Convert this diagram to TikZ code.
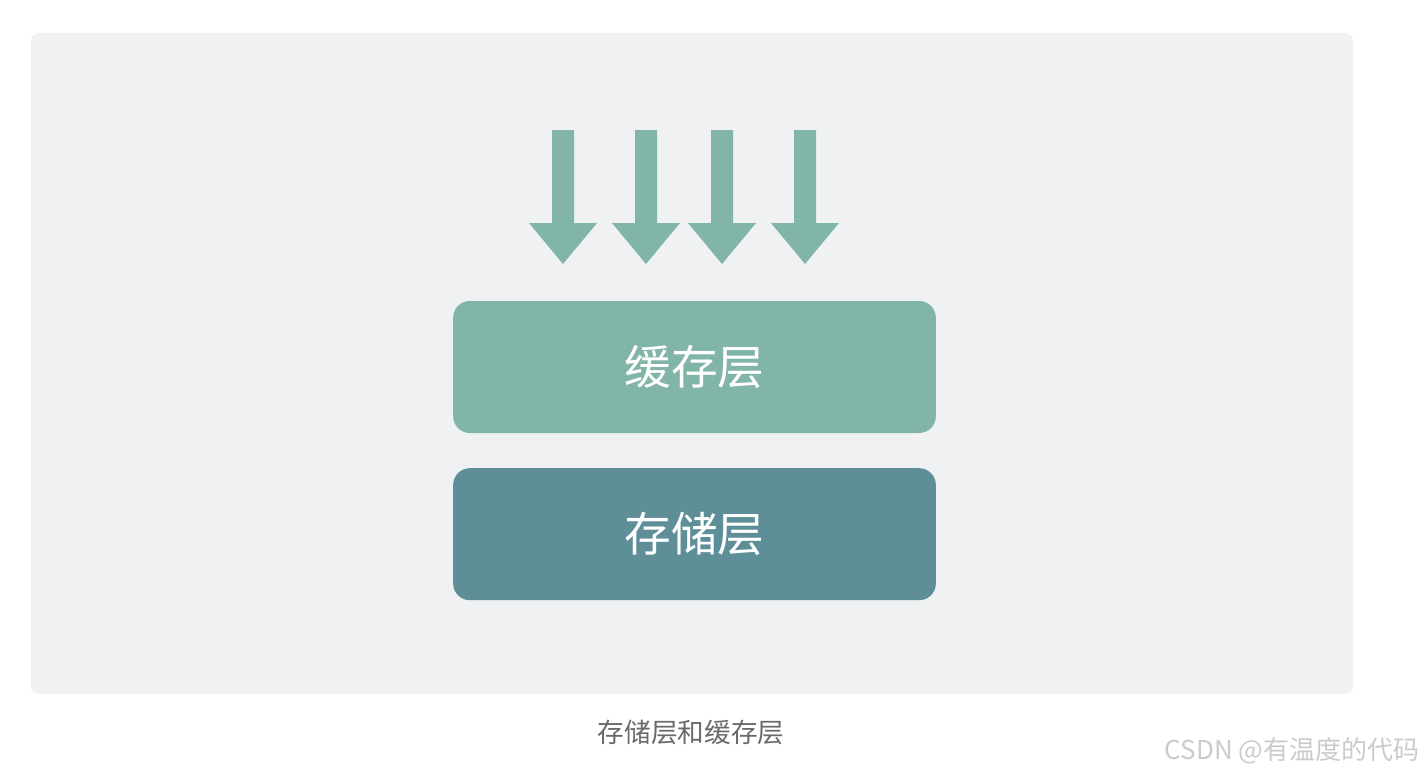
\documentclass[tikz,border=0pt]{standalone}
\usepackage{fontspec}
\newfontfamily\cjk{Noto Sans CJK SC}
\usetikzlibrary{positioning}
\definecolor{panelgray}{HTML}{F0F1F3}
\definecolor{cachegreen}{HTML}{80B5A8}
\definecolor{storeteal}{HTML}{5E8E98}
\definecolor{captiongray}{HTML}{6A6A6A}
\definecolor{markgray}{HTML}{CBCBCB}

\begin{document}
\begin{tikzpicture}[
        x=0.75pt, y=-0.75pt,
        node distance=26pt,
        layer/.style={rectangle, rounded corners=12.5pt, inner sep=0pt,
                      minimum width=362pt, minimum height=99pt,
                      text=white, font=\cjk\fontsize{35}{35}\selectfont},
        downarr/.style={fill=cachegreen}
    ]
        % canvas and panel
        \useasboundingbox (0,0) rectangle (1428,778);
        \fill[white] (0,0) rectangle (1428,778);
        \fill[panelgray, rounded corners=6pt] (31,33) rectangle (1353,694);

        % layers
        \node[layer, fill=cachegreen] (cache) at (694.5,367) {缓存层};
        \node[layer, fill=storeteal, below=of cache] (store) {存储层};

        % incoming requests
        \foreach \xa in {563,646,722,805} {
            \fill[downarr] (\xa-11,130) -- (\xa+11,130) -- (\xa+11,223)
                -- (\xa+34,223) -- (\xa,264) -- (\xa-34,223) -- (\xa-11,223) -- cycle;
        }

        % caption and watermark
        \node[text=captiongray, font=\cjk\fontsize{20}{20}\selectfont] (caption) at (691,732) {存储层和缓存层};
        \node[text=markgray, font=\cjk\fontsize{19.5}{20}\selectfont, anchor=east] (mark) at (1424,751) {CSDN @有温度的代码};
    \end{tikzpicture}
\end{document}
